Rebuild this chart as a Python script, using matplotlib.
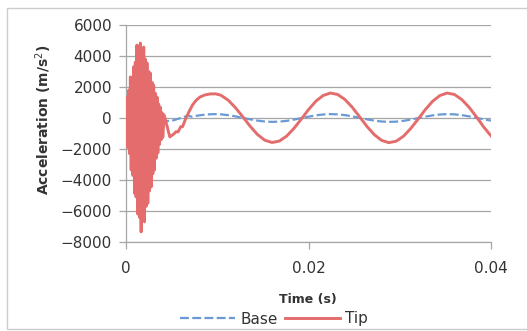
import matplotlib
matplotlib.use("Agg")
import matplotlib.pyplot as plt
from matplotlib.patches import Rectangle

# ---- Tip acceleration: impact burst (alternating peaks / troughs) ----
burst_peak_t = [0.00010, 0.00030, 0.00048, 0.00066, 0.00084, 0.00102,
                0.00120, 0.00139, 0.00157, 0.00175, 0.00194, 0.00212,
                0.00230, 0.00249, 0.00267, 0.00285, 0.00303, 0.00321,
                0.00340, 0.00358, 0.00376, 0.00394]
burst_peak_v = [1350, 1800, 2650, 2600, 3300, 3600,
                4700, 4300, 4840, 4400, 4580, 3800,
                3550, 3000, 2900, 2300, 2130, 1600,
                1350, 900, 700, 350]
burst_trough_t = [0.00020, 0.00039, 0.00057, 0.00075, 0.00093, 0.00111,
                  0.00130, 0.00148, 0.00166, 0.00184, 0.00203, 0.00221,
                  0.00239, 0.00258, 0.00276, 0.00294, 0.00312, 0.00330,
                  0.00349, 0.00367, 0.00385, 0.00403]
burst_trough_v = [-1900, -2300, -3350, -3700, -4850, -5100,
                  -6200, -6400, -7350, -6600, -6700, -5700,
                  -5500, -4700, -4450, -3600, -3350, -2600,
                  -2250, -1700, -1400, -1250]

# ---- Tip acceleration: free vibration after the burst ----
tip_tail_t = [0.00418, 0.0048, 0.0052, 0.0055, 0.0057, 0.0060, 0.0062,
              0.0065, 0.0069, 0.0073, 0.0077, 0.0081, 0.0086, 0.0092,
              0.0098, 0.0104, 0.0112, 0.0120, 0.0128, 0.0136, 0.0144,
              0.0152, 0.0160, 0.0168, 0.0176, 0.0184, 0.0192, 0.0200,
              0.0208, 0.0216, 0.0224, 0.0232, 0.0240, 0.0248, 0.0256,
              0.0264, 0.0272, 0.0280, 0.0288, 0.0296, 0.0304, 0.0312,
              0.0320, 0.0328, 0.0336, 0.0344, 0.0352, 0.0360, 0.0368,
              0.0376, 0.0384, 0.0392, 0.0400]
tip_tail_v = [200, -1220, -1050, -880, -900, -560, -560,
              -100, 400, 850, 1150, 1350, 1480, 1550,
              1560, 1470, 1150, 660, 80, -530, -1060,
              -1430, -1580, -1490, -1170, -675, -80, 540,
              1080, 1450, 1610, 1515, 1190, 690, 80,
              -540, -1070, -1440, -1590, -1500, -1180, -680,
              -80, 540, 1080, 1450, 1610, 1515, 1190,
              690, 80, -580, -1150]

# ---- Base acceleration ----
base_t = [0.0, 0.0010, 0.0020, 0.0030, 0.0037, 0.0045, 0.0052, 0.0060,
          0.0068, 0.0072, 0.0080, 0.0088, 0.0096, 0.0104, 0.0112, 0.0120,
          0.0128, 0.0136, 0.0144, 0.0152, 0.0160, 0.0168, 0.0176, 0.0184,
          0.0192, 0.0200, 0.0208, 0.0216, 0.0224, 0.0232, 0.0240, 0.0248,
          0.0256, 0.0264, 0.0272, 0.0280, 0.0288, 0.0296, 0.0304, 0.0312,
          0.0320, 0.0328, 0.0336, 0.0344, 0.0352, 0.0360, 0.0368, 0.0376,
          0.0384, 0.0392, 0.0400]
base_v = [0, -200, 100, -150, -250, -200, -150, 0,
          150, 85, 170, 225, 250, 235, 185, 105,
          10, -85, -170, -225, -250, -235, -185, -105,
          -10, 85, 170, 225, 250, 235, 185, 105,
          10, -85, -170, -225, -250, -235, -185, -105,
          -10, 85, 170, 225, 250, 235, 185, 105,
          10, -85, -170]

x_ticks = [0, 0.02, 0.04]
x_tick_labels = ["0", "0.02", "0.04"]
y_ticks = [-8000, -6000, -4000, -2000, 0, 2000, 4000, 6000]

# assemble the tip series
tip_t = [0.0]
tip_v = [0.0]
for pt, pv, tt, tv in zip(burst_peak_t, burst_peak_v, burst_trough_t, burst_trough_v):
    tip_t += [pt, tt]
    tip_v += [pv, tv]
tip_t += tip_tail_t
tip_v += tip_tail_v

W, H = 527, 331
fig = plt.figure(figsize=(W / 100, H / 100), dpi=100)
ax = fig.add_axes([126 / W, 1 - 242 / H, 365 / W, 217 / H])

grid_col = "#A6A6A6"
base_line, = ax.plot(base_t, base_v, color="#6A9AD6", lw=1.6,
                     dashes=(4, 1.5), label="Base", zorder=3)
tip_line, = ax.plot(tip_t, tip_v, color="#E46C6C", lw=2.1,
                    solid_joinstyle="round", label="Tip", zorder=4)

ax.set_xlim(0, 0.04)
ax.set_ylim(-8000, 6000)
ax.set_xticks(x_ticks)
ax.set_xticklabels(x_tick_labels)
ax.set_yticks(y_ticks)

ax.yaxis.grid(True, color=grid_col, lw=0.9)
ax.set_axisbelow(True)
for s in ("top", "right"):
    ax.spines[s].set_visible(False)
for s in ("left", "bottom"):
    ax.spines[s].set_color(grid_col)
    ax.spines[s].set_linewidth(0.9)

ax.tick_params(axis="y", direction="out", length=5, width=0.9, color=grid_col,
               pad=5, labelsize=11, labelcolor="#333333")
ax.tick_params(axis="x", direction="out", length=5, width=0.9, color=grid_col,
               pad=9, labelsize=11, labelcolor="#333333")

fig.text(44 / W, 1 - 120 / H, "Acceleration (m/s$^2$)", rotation=90,
         ha="center", va="center", fontsize=10, fontweight="bold",
         color="#333333")
fig.text(308 / W, 1 - 299 / H, "Time (s)", ha="center", va="center",
         fontsize=9, fontweight="bold", color="#333333")

fig.legend(handles=[base_line, tip_line], loc="center",
           bbox_to_anchor=(274 / W, 1 - 319 / H), ncol=2, frameon=False,
           fontsize=11, handlelength=3.6, handletextpad=0.35,
           columnspacing=0.5, labelcolor="#333333")

fig.patches.append(Rectangle((7 / W, 1 - 329 / H), (W - 7) / W + 0.02,
                             (329 - 8) / H, transform=fig.transFigure,
                             fill=False, edgecolor="#CCCCCC", lw=1.0))

fig.savefig("out.png", dpi=100, facecolor="white")
